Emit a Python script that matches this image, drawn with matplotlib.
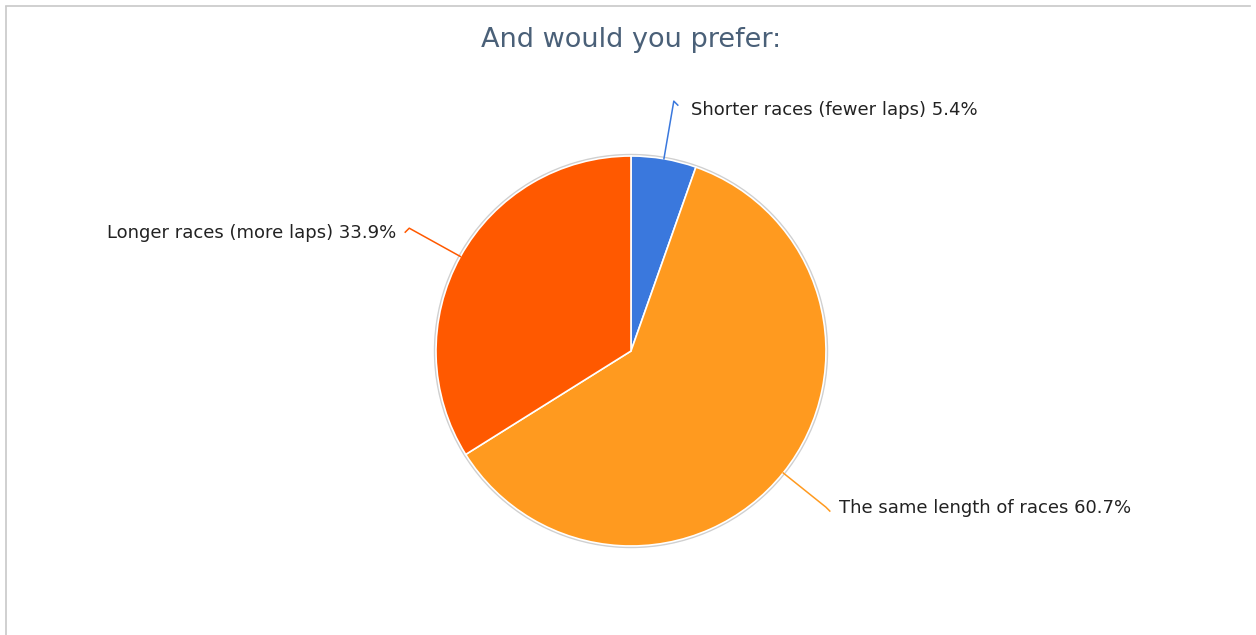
import numpy as np
import matplotlib.pyplot as plt

labels = ["Shorter races (fewer laps)", "The same length of races", "Longer races (more laps)"]
values = [5.4, 60.7, 33.9]
colors = ["#3a78dd", "#ff9a1f", "#ff5900"]

W, H = 1256, 635
fig = plt.figure(figsize=(W / 100, H / 100), dpi=100)
ax = fig.add_axes([0, 0, 1, 1])
ax.set_xlim(0, W)
ax.set_ylim(0, H)
ax.set_aspect("equal")
ax.axis("off")

# frame (top and left border only, like the screenshot)
ax.plot([6, 1250], [H - 6, H - 6], color="#c8c8c8", lw=1.2)
ax.plot([5.5, 5.5], [0, H - 7], color="#c8c8c8", lw=1.2)

cx, cy, r = 631, H - 351, 195

# soft grey outline behind the pie
ax.add_patch(plt.Circle((cx, cy), r + 1.5, color="#d0d0d0", zorder=1))
wedges, _ = ax.pie(values, colors=colors, startangle=90, counterclock=False,
                   center=(cx, cy), radius=r,
                   wedgeprops=dict(edgecolor="white", linewidth=1.2))
for w in wedges:
    w.set_zorder(2)

ax.set_xlim(0, W)
ax.set_ylim(0, H)

ax.text(cx, H - 40, "And would you prefer:", ha="center", va="center",
        fontsize=19.5, color="#4a6078")

# label placement tweaks (pixels): side, line length, text dx, text dy
side = [1, 1, -1]
ext = [1.3, 1.28, 1.3]
tdx = [17, 13, 13]
tdy = [-9, -1, -5]
for i, w in enumerate(wedges):
    s = side[i]
    ang = np.deg2rad((w.theta1 + w.theta2) / 2)
    x0, y0 = cx + r * np.cos(ang), cy + r * np.sin(ang)
    x1, y1 = cx + ext[i] * r * np.cos(ang), cy + ext[i] * r * np.sin(ang)
    x2, y2 = x1 + 4 * s, y1 - 4
    ax.plot([x0, x1, x2], [y0, y1, y2], color=colors[i], lw=1.1, zorder=3)
    ax.text(x1 + tdx[i] * s, y1 + tdy[i], "%s %.1f%%" % (labels[i], values[i]),
            ha="left" if s > 0 else "right", va="center",
            fontsize=13, color="#222222")

fig.savefig("out.png", dpi=100)
